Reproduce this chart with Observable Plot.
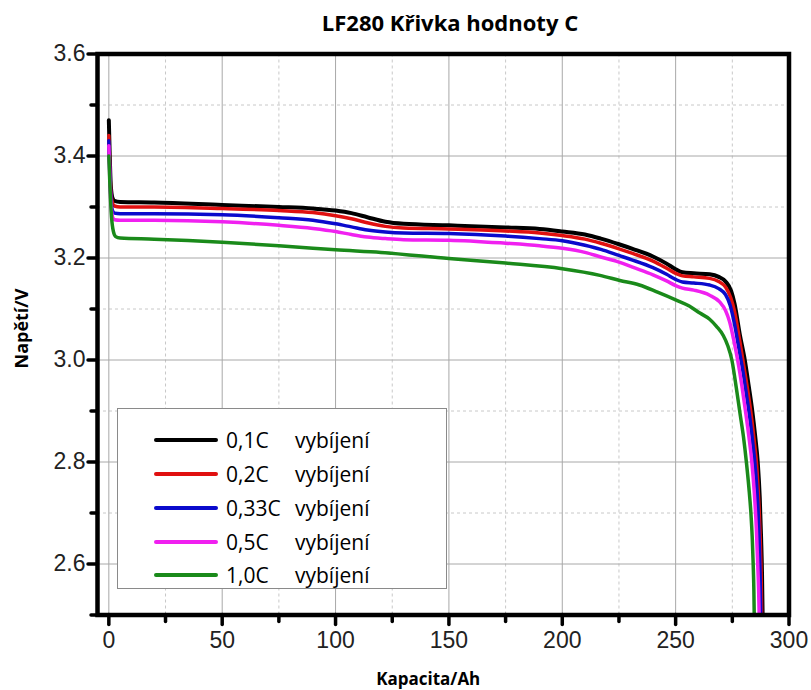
<!DOCTYPE html>
<html><head><meta charset="utf-8">
<script src="https://cdn.jsdelivr.net/npm/d3@7"></script>
<script src="https://cdn.jsdelivr.net/npm/@observablehq/plot@0.6"></script>
<style>
body{margin:0;background:#fff;}
#wrap{position:relative;width:811px;height:690px;overflow:hidden;background:#fff;}
#title{position:absolute;left:450px;top:0;transform:translateX(-50%);height:44px;line-height:44px;font-family:"Open Sans",sans-serif;font-weight:700;font-size:22px;white-space:nowrap;color:#000;}
#chart{position:absolute;left:0;top:40px;}
#legend{position:absolute;left:117px;top:408px;width:330px;height:181px;border:1.5px solid #8a8a8a;background:#fff;box-sizing:border-box;font-family:"Open Sans",sans-serif;font-size:21px;color:#000;}
.row{position:absolute;left:0;height:34px;width:100%;}
.sw{position:absolute;left:36px;width:64px;height:4px;border-radius:2px;top:15px;}
.lb{position:absolute;left:108px;top:0;line-height:34px;white-space:nowrap;}
.sf{position:absolute;left:177px;top:0;line-height:34px;white-space:nowrap;}
</style></head>
<body>
<div id="wrap">
<div id="title">LF280 Křivka hodnoty C</div>
<div id="chart"></div>
<div id="legend"></div>
</div>
<script>
// Discharge curves: [capacity Ah, voltage V]
const c01 = [[0,3.47],[0.4,3.40],[0.9,3.34],[1.6,3.318],[2.5,3.312],[5,3.310],[20,3.309],[50,3.304],[75,3.300],[90,3.297],[100,3.293],[107,3.288],[114,3.280],[122,3.271],[130,3.267],[150,3.264],[175,3.260],[190,3.257],[200,3.252],[210,3.246],[217,3.238],[225,3.227],[231,3.218],[240,3.203],[246,3.189],[250,3.178],[253,3.172],[258,3.170],[265,3.168],[269,3.163],[272,3.154],[274.5,3.135],[276,3.110],[278.3,3.05],[280.5,3.00],[282.2,2.95],[283.8,2.90],[285.1,2.85],[286.2,2.80],[287.1,2.73],[287.7,2.65],[288.1,2.58],[288.4,2.49]];
const c02 = [[0,3.44],[0.4,3.38],[0.9,3.33],[1.6,3.308],[2.5,3.302],[5,3.300],[20,3.300],[50,3.297],[75,3.293],[90,3.289],[100,3.283],[107,3.277],[114,3.269],[122,3.262],[130,3.259],[150,3.257],[175,3.253],[190,3.249],[200,3.244],[210,3.237],[217,3.229],[225,3.218],[231,3.209],[240,3.194],[246,3.180],[250,3.170],[253,3.165],[258,3.163],[265,3.160],[269,3.154],[272,3.143],[274.3,3.122],[276,3.095],[278,3.045],[280,2.99],[281.8,2.94],[283.4,2.89],[284.7,2.84],[285.8,2.79],[286.7,2.72],[287.3,2.65],[287.7,2.58],[288.0,2.49]];
const c033 = [[0,3.43],[0.4,3.37],[0.9,3.32],[1.6,3.293],[2.5,3.288],[5,3.287],[20,3.287],[50,3.285],[75,3.279],[90,3.274],[100,3.267],[107,3.261],[114,3.255],[122,3.251],[130,3.249],[150,3.248],[175,3.243],[190,3.238],[200,3.234],[210,3.225],[217,3.217],[225,3.205],[231,3.196],[240,3.181],[246,3.168],[250,3.158],[253,3.153],[258,3.151],[265,3.147],[269,3.140],[272,3.128],[274,3.108],[276,3.07],[278,3.02],[279.6,2.98],[281.3,2.93],[282.9,2.88],[284.2,2.83],[285.3,2.78],[286.2,2.72],[286.9,2.64],[287.3,2.57],[287.6,2.49]];
const c05 = [[0,3.42],[0.4,3.36],[0.9,3.31],[1.6,3.281],[2.5,3.275],[5,3.274],[20,3.274],[50,3.271],[75,3.264],[90,3.258],[100,3.252],[107,3.246],[114,3.241],[122,3.238],[130,3.236],[150,3.235],[175,3.229],[190,3.224],[200,3.219],[210,3.211],[217,3.202],[225,3.192],[231,3.182],[240,3.167],[246,3.155],[250,3.146],[253,3.141],[258,3.137],[265,3.127],[269.4,3.114],[272,3.097],[273.8,3.075],[275.6,3.04],[277.5,2.996],[279.2,2.95],[280.8,2.90],[282.3,2.85],[283.6,2.80],[284.7,2.74],[285.6,2.67],[286.2,2.60],[286.6,2.55],[286.9,2.49]];
const c10 = [[0,3.40],[0.5,3.34],[1.2,3.28],[2,3.252],[3,3.242],[5,3.239],[20,3.237],[50,3.231],[75,3.224],[90,3.219],[100,3.216],[120,3.211],[150,3.199],[175,3.190],[200,3.179],[216.6,3.166],[225.4,3.156],[234,3.147],[242,3.133],[250,3.118],[256,3.106],[260.7,3.092],[265,3.080],[268,3.066],[271,3.048],[273,3.028],[274.8,3.0],[276.8,2.944],[278.4,2.895],[279.9,2.85],[281.2,2.80],[282.3,2.75],[283.2,2.70],[283.8,2.65],[284.2,2.60],[284.5,2.55],[284.7,2.49]];

const seriesNames = ["0,1C","0,2C","0,33C","0,5C","1,0C"];
const seriesSuffix = "vybíjení";
const seriesColors = ["#000000","#e01010","#0a0acc","#f020f0","#1a8a1a"];
const seriesData = [c01, c02, c033, c05, c10];

const xMajor = [0,50,100,150,200,250,300];
const xMinor = [25,75,125,175,225,275];
const yMajor = [2.6,2.8,3.0,3.2,3.4,3.6];
const yMinor = [2.5,2.7,2.9,3.1,3.3,3.5];

const titleText = "LF280 Křivka hodnoty C";
const xLabel = "Kapacita/Ah";
const yLabel = "Napětí/V";

const gridMajor = {stroke:"#a8a8a8", strokeOpacity:1, strokeWidth:1};
const gridMinor = {stroke:"#c8c8c8", strokeOpacity:1, strokeWidth:1, strokeDasharray:"3,3"};
const tickFont = {fontSize:23, fontFamily:"Liberation Sans, Arial, sans-serif", fill:"#222"};

const plot = Plot.plot({
  width: 811, height: 650,
  marginLeft: 97, marginRight: 22.5, marginTop: 13.5, marginBottom: 75.5,
  x: {domain: [-5, 300], axis: null},
  y: {domain: [2.5, 3.6], axis: null},
  style: {background: "#fff"},
  marks: [
    Plot.gridX(xMinor, gridMinor),
    Plot.gridY(yMinor.filter(v => v > 2.5), gridMinor),
    Plot.gridX(xMajor.filter(v => v < 300), gridMajor),
    Plot.gridY(yMajor.filter(v => v < 3.6), gridMajor),
    ...seriesData.map((pts, i) => Plot.line(pts, {
      x: d => d[0], y: d => d[1], stroke: seriesColors[i],
      strokeWidth: i === 0 ? 4 : 3.5, curve: "monotone-x", clip: true
    })),
    Plot.frame({stroke: "#000", strokeWidth: 4.5}),
    Plot.axisX(xMinor, {anchor: "bottom", tickSize: 7, strokeWidth: 3.5, strokeLinecap: "round", text: null, label: null}),
    Plot.axisX(xMajor, {anchor: "bottom", tickSize: 10, tickPadding: 7, strokeWidth: 3.5, strokeLinecap: "round", label: null, tickFormat: d => String(d), ...tickFont}),
    Plot.axisY(yMinor, {anchor: "left", tickSize: 6, strokeWidth: 3.5, strokeLinecap: "round", text: null, label: null}),
    Plot.axisY(yMajor, {anchor: "left", tickSize: 9, tickPadding: 3, strokeWidth: 3.5, strokeLinecap: "round", label: null, tickFormat: d => d.toFixed(1), ...tickFont}),
    Plot.text([xLabel], {frameAnchor: "bottom", textAnchor: "middle", lineAnchor: "middle", dx: -15, dy: 64.5, fontSize: 17, fontWeight: "bold", fontFamily: "Open Sans, sans-serif", fill: "#000"}),
    Plot.text([yLabel], {frameAnchor: "left", textAnchor: "middle", lineAnchor: "middle", dx: -75, dy: -6, rotate: -90, fontSize: 18, fontWeight: "bold", fontFamily: "Open Sans, sans-serif", fill: "#000"})
  ]
});
document.getElementById("chart").appendChild(plot);
document.getElementById("title").textContent = titleText;

const legend = document.getElementById("legend");
const rowCenters = [31, 65, 99, 133, 166];
seriesNames.forEach((name, i) => {
  const row = document.createElement("div");
  row.className = "row";
  row.style.top = (rowCenters[i] - 17) + "px";
  const sw = document.createElement("div");
  sw.className = "sw"; sw.style.background = seriesColors[i];
  const lb = document.createElement("div");
  lb.className = "lb"; lb.textContent = name;
  const sf = document.createElement("div");
  sf.className = "sf"; sf.textContent = seriesSuffix;
  row.append(sw, lb, sf);
  legend.appendChild(row);
});
</script>
</body></html>
